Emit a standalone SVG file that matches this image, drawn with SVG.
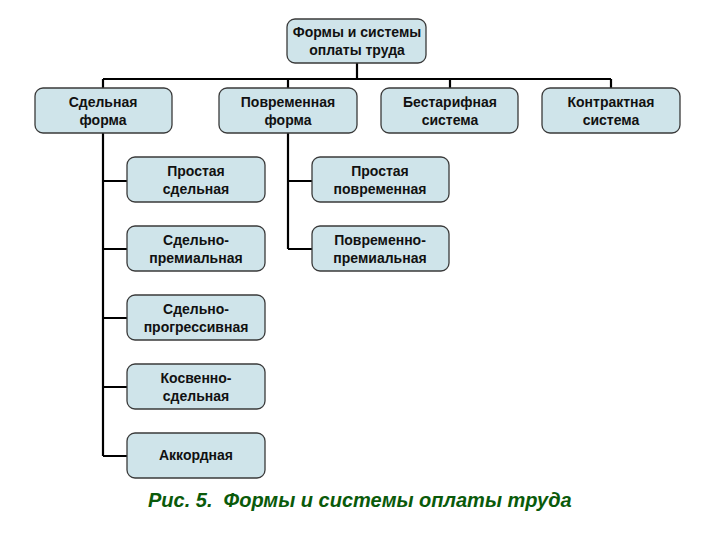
<svg xmlns="http://www.w3.org/2000/svg" width="720" height="540" viewBox="0 0 720 540">
<style>
.box{fill:#cfe4ea;stroke:#3a3a3a;stroke-width:1.3}
.t{font-family:"Liberation Sans",Arial,sans-serif;font-weight:bold;font-size:14px;fill:#111;text-anchor:middle}
.c{fill:none;stroke:#000;stroke-width:2.2}
.cap{font-family:"Liberation Sans",Arial,sans-serif;font-weight:bold;font-style:italic;font-size:20px;fill:#0a5a0a;white-space:pre}
</style>
<rect width="720" height="540" fill="#fff"/>
<g id="connectors">
<path class="c" d="M357 63V79M103 79H611M103 79V88M288 79V88M450 79V88M611 79V88"/>
<path class="c" d="M103 133V456M103 181H127M103 249H127M103 318H127M103 387H127M103 456H127"/>
<path class="c" d="M288 133V249M288 181H312M288 249H312"/>
</g>
<g id="root"><rect class="box" x="287" y="19" width="139" height="44" rx="8"/><text class="t" x="357" y="37">Формы и системы</text><text class="t" x="357" y="55">оплаты труда</text></g>
<g id="sdelnaya"><rect class="box" x="35" y="88" width="137" height="45" rx="8"/><text class="t" x="103" y="107">Сдельная</text><text class="t" x="103" y="125">форма</text></g>
<g id="povremennaya"><rect class="box" x="219" y="88" width="138" height="45" rx="8"/><text class="t" x="288" y="107">Повременная</text><text class="t" x="288" y="125">форма</text></g>
<g id="bestarifnaya"><rect class="box" x="381" y="88" width="137" height="45" rx="8"/><text class="t" x="450" y="107">Бестарифная</text><text class="t" x="450" y="125">система</text></g>
<g id="kontraktnaya"><rect class="box" x="542" y="88" width="138" height="45" rx="8"/><text class="t" x="611" y="107">Контрактная</text><text class="t" x="611" y="125">система</text></g>
<g id="prostaya-sdelnaya"><rect class="box" x="127" y="157" width="138" height="45" rx="8"/><text class="t" x="196" y="176">Простая</text><text class="t" x="196" y="194">сдельная</text></g>
<g id="sdelno-premialnaya"><rect class="box" x="127" y="226" width="138" height="45" rx="8"/><text class="t" x="196" y="245">Сдельно-</text><text class="t" x="196" y="263">премиальная</text></g>
<g id="sdelno-progressivnaya"><rect class="box" x="127" y="295" width="138" height="45" rx="8"/><text class="t" x="196" y="314">Сдельно-</text><text class="t" x="196" y="332">прогрессивная</text></g>
<g id="kosvenno-sdelnaya"><rect class="box" x="127" y="364" width="138" height="45" rx="8"/><text class="t" x="196" y="383">Косвенно-</text><text class="t" x="196" y="401">сдельная</text></g>
<g id="akkordnaya"><rect class="box" x="127" y="433" width="138" height="45" rx="8"/><text class="t" x="196" y="460">Аккордная</text></g>
<g id="prostaya-povremennaya"><rect class="box" x="312" y="157" width="137" height="45" rx="8"/><text class="t" x="380" y="176">Простая</text><text class="t" x="380" y="194">повременная</text></g>
<g id="povremenno-premialnaya"><rect class="box" x="312" y="226" width="137" height="45" rx="8"/><text class="t" x="380" y="245">Повременно-</text><text class="t" x="380" y="263">премиальная</text></g>
<text class="cap" x="148" y="507" xml:space="preserve">Рис. 5.  Формы и системы оплаты труда</text>
</svg>
